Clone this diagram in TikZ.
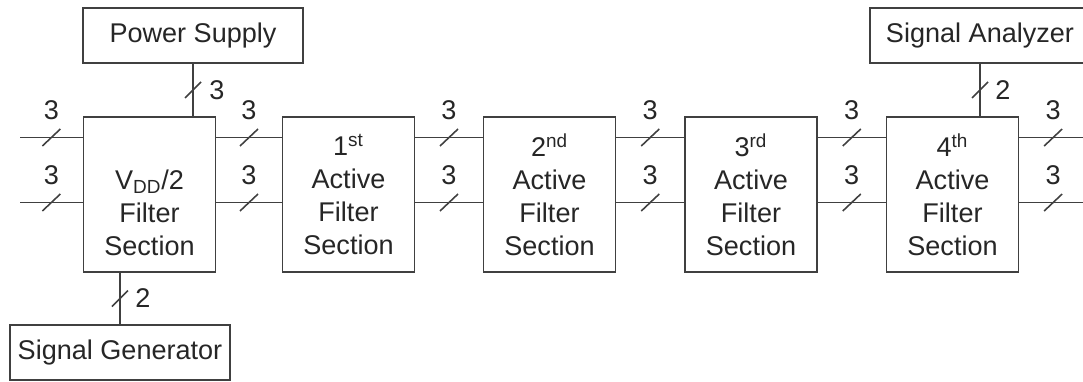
\documentclass[tikz,border=0pt]{standalone}
\usepackage{fontspec}
\setmainfont{Liberation Sans}
\usepackage{tikz}
\usetikzlibrary{calc}

\begin{document}
\begin{tikzpicture}[
    section/.style={draw=black!75, line width=0.9pt, minimum width=2.64cm, minimum height=3.1cm, align=center, inner sep=0pt},
    inst/.style={draw=black!75, line width=0.9pt, minimum width=4.4cm, minimum height=1.1cm, inner sep=0pt},
    wire/.style={line width=0.9pt, black!75},
    num/.style={inner sep=0pt},
    every node/.style={font=\fontsize{15.4}{18.8}\selectfont, text=black!85},
]
  \useasboundingbox (0,0) rectangle (21.66,-7.62);

  % instruments
  \node[inst] (ps) at (3.86,-0.71) {Power Supply};
  \node[inst] (sg) at (2.40,-7.05) {Signal Generator};
  \node[inst] (sa) at (19.60,-0.71) {Signal Analyzer};

  % filter chain
  \node[section] (vdd) at (2.99,-3.89) {\strut\\ V\textsubscript{DD}/2\\ Filter\\ Section};
  \node[section] (sec1) at (6.97,-3.89) {1\textsuperscript{st}\\ Active\\ Filter\\ Section};
  \node[section] (sec2) at (10.99,-3.89) {2\textsuperscript{nd}\\ Active\\ Filter\\ Section};
  \node[section] (sec3) at (15.02,-3.89) {3\textsuperscript{rd}\\ Active\\ Filter\\ Section};
  \node[section] (sec4) at (19.05,-3.89) {4\textsuperscript{th}\\ Active\\ Filter\\ Section};

  % free ends of the bus lines
  \coordinate (in1) at (0.40,-2.75);
  \coordinate (in2) at (0.40,-4.05);
  \coordinate (out1) at (21.74,-2.75);
  \coordinate (out2) at (21.74,-4.05);

  % horizontal buses, 3 lines each
  \foreach \a/\b in {vdd/sec1, sec1/sec2, sec2/sec3, sec3/sec4} {
    \foreach \y in {-2.75,-4.05} {
      \draw[wire] (\a.east |- 0,\y) -- coordinate[midway] (m) (\b.west |- 0,\y);
      \draw[wire] ([shift={(-0.18,-0.17)}]m) -- ([shift={(0.18,0.17)}]m);
      \node[num] at ([yshift=0.54cm]m) {3};
    }
  }
  \foreach \c in {in1,in2} {
    \draw[wire] (\c) -- coordinate[midway] (m) (vdd.west |- \c);
    \draw[wire] ([shift={(-0.18,-0.17)}]m) -- ([shift={(0.18,0.17)}]m);
    \node[num] at ([yshift=0.54cm]m) {3};
  }
  \foreach \c in {out1,out2} {
    \draw[wire] (sec4.east |- \c) -- coordinate[midway] (m) (\c);
    \draw[wire] ([shift={(-0.18,-0.17)}]m) -- ([shift={(0.18,0.17)}]m);
    \node[num] at ([yshift=0.54cm]m) {3};
  }

  % vertical links to the instruments
  \draw[wire] (ps.south) -- coordinate[midway] (mp) (ps.south |- vdd.north);
  \draw[wire] ([shift={(-0.16,-0.16)}]mp) -- ([shift={(0.16,0.16)}]mp);
  \node[num] at ([xshift=0.48cm]mp) {3};

  \draw[wire] (sg.north) -- coordinate[midway] (mg) (sg.north |- vdd.south);
  \draw[wire] ([shift={(-0.16,-0.16)}]mg) -- ([shift={(0.16,0.16)}]mg);
  \node[num] at ([xshift=0.46cm]mg) {2};

  \draw[wire] (sa.south) -- coordinate[midway] (ma) (sa.south |- sec4.north);
  \draw[wire] ([shift={(-0.16,-0.16)}]ma) -- ([shift={(0.16,0.16)}]ma);
  \node[num] at ([xshift=0.46cm]ma) {2};
\end{tikzpicture}
\end{document}
